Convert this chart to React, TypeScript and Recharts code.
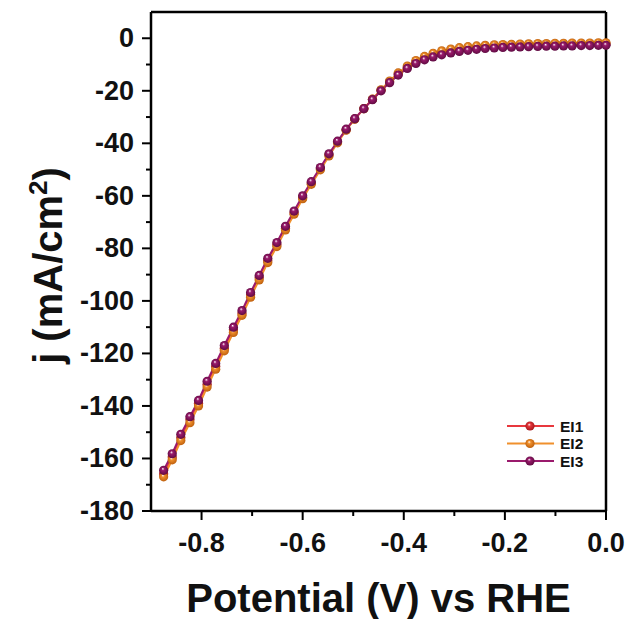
import React from 'react';
import { LineChart, Line, XAxis, YAxis, ReferenceLine } from 'recharts';

const potential = [
  -0.875, -0.858, -0.841, -0.823, -0.806, -0.789, -0.772, -0.755, -0.737, -0.72,
  -0.703, -0.686, -0.669, -0.651, -0.634, -0.617, -0.6, -0.583, -0.565, -0.548,
  -0.531, -0.514, -0.497, -0.479, -0.462, -0.445, -0.428, -0.411, -0.393, -0.376,
  -0.359, -0.342, -0.325, -0.307, -0.29, -0.273, -0.256, -0.239, -0.221, -0.204,
  -0.187, -0.17, -0.153, -0.135, -0.118, -0.101, -0.084, -0.067, -0.049, -0.032,
  -0.015, 0.0,
];

const ei1 = [
  -165.8, -159.4, -152.0, -145.2, -139.0, -131.7, -124.9, -118.0, -111.0, -104.6,
  -97.7, -91.1, -84.6, -78.5, -72.3, -66.4, -60.5, -55.1, -49.6, -44.4,
  -39.5, -34.8, -30.7, -26.8, -23.3, -19.8, -16.6, -13.6, -11.0, -9.0,
  -7.5, -6.4, -5.5, -4.8, -4.3, -3.9, -3.5, -3.3, -3.1, -2.9,
  -2.8, -2.7, -2.6, -2.5, -2.5, -2.4, -2.4, -2.3, -2.3, -2.3,
  -2.2, -2.2,
];

const ei2 = [
  -167.0, -160.5, -153.2, -146.4, -140.0, -132.8, -126.0, -119.0, -112.0, -105.5,
  -98.6, -92.0, -85.4, -79.3, -73.0, -67.0, -61.1, -55.6, -50.1, -44.8,
  -39.8, -35.0, -30.8, -26.8, -23.2, -19.6, -16.3, -13.2, -10.6, -8.5,
  -6.9, -5.7, -4.8, -4.1, -3.6, -3.2, -2.9, -2.7, -2.5, -2.4,
  -2.3, -2.2, -2.1, -2.0, -2.0, -1.9, -1.9, -1.8, -1.8, -1.8,
  -1.7, -1.7,
];

const ei3 = [
  -164.5, -158.2, -150.8, -144.1, -137.9, -130.6, -123.8, -117.0, -110.0, -103.7,
  -96.8, -90.3, -83.8, -77.8, -71.6, -65.8, -60.0, -54.6, -49.2, -44.0,
  -39.2, -34.6, -30.6, -26.8, -23.4, -20.0, -16.9, -14.0, -11.5, -9.6,
  -8.2, -7.1, -6.3, -5.6, -5.0, -4.6, -4.2, -3.9, -3.7, -3.5,
  -3.4, -3.3, -3.2, -3.1, -3.0, -3.0, -2.9, -2.9, -2.8, -2.8,
  -2.7, -2.7,
];

const seriesNames = ['EI1', 'EI2', 'EI3'];
const seriesValues = [ei1, ei2, ei3];
const seriesColors = ['#e8383d', '#f0902c', '#9a1a6c'];
const seriesDark = ['#a01518', '#b85a0a', '#5a0a3e'];

const xDomain = [-0.9, 0];
const yDomain = [-180, 10];
const xTicks = [-0.8, -0.7, -0.6, -0.5, -0.4, -0.3, -0.2, -0.1, 0];
const xMajor = [-0.8, -0.6, -0.4, -0.2, 0];
const yTicks = [0, -10, -20, -30, -40, -50, -60, -70, -80, -90, -100, -110, -120, -130, -140, -150, -160, -170, -180];
const yMajor = [0, -20, -40, -60, -80, -100, -120, -140, -160, -180];

const xTitle = 'Potential (V) vs RHE';

const data = potential.map((v, i) => {
  const row: Record<string, number> = { v };
  seriesNames.forEach((n, k) => {
    row[n] = seriesValues[k][i];
  });
  return row;
});

const FONT = '"Liberation Sans", Arial, Helvetica, sans-serif';
const TS = 9;
const TM = 8;

const isIn = (arr: number[], v: number) => arr.some((m) => Math.abs(m - v) < 1e-6);

function XTick(props: any) {
  const { x, y, payload } = props;
  const val = payload.value as number;
  const major = isIn(xMajor, val);
  const axisY = y - TS - TM;
  return (
    <g>
      <line x1={x} x2={x} y1={axisY} y2={axisY + (major ? 9 : 5)} stroke="#000" strokeWidth={2} />
      {major && (
        <text x={x} y={axisY + 32} textAnchor="middle" dominantBaseline="central" fontFamily={FONT} fontWeight="bold" fontSize={27} fill="#111">
          {val.toFixed(1)}
        </text>
      )}
    </g>
  );
}

function YTick(props: any) {
  const { x, y, payload } = props;
  const val = payload.value as number;
  const major = isIn(yMajor, val);
  const axisX = x + TS + TM;
  return (
    <g>
      <line x1={axisX} x2={axisX - (major ? 9 : 5)} y1={y} y2={y} stroke="#000" strokeWidth={2} />
      {major && (
        <text x={axisX - 17} y={y} textAnchor="end" dominantBaseline="central" fontFamily={FONT} fontWeight="bold" fontSize={27} fill="#111">
          {String(val)}
        </text>
      )}
    </g>
  );
}

function XLabel(props: any) {
  const vb = props.viewBox || { x: 151, y: 511, width: 455, height: 108 };
  return (
    <text x={vb.x + vb.width / 2} y={vb.y + 101} textAnchor="middle" fontFamily={FONT} fontWeight="bold" fontSize={40} fill="#111">
      {xTitle}
    </text>
  );
}

function YLabel(props: any) {
  const vb = props.viewBox || { x: 0, y: 12, width: 151, height: 499 };
  const cx = vb.x + 62;
  const cy = vb.y + vb.height / 2 + 4;
  return (
    <text x={cx} y={cy} transform={`rotate(-90, ${cx}, ${cy})`} textAnchor="middle" fontFamily={FONT} fontWeight="bold" fontSize={40} fill="#111">
      j (mA/cm
      <tspan fontSize={26} dy={-15}>2</tspan>
      <tspan dy={15}>)</tspan>
    </text>
  );
}

const makeDot = (k: number) => (p: any) => (
  <circle key={`d${k}-${p.index}`} cx={p.cx} cy={p.cy} r={4.6} fill={`url(#sphere${k})`} />
);

function Legend() {
  return (
    <svg width={120} height={64} style={{ position: 'absolute', left: 500, top: 416 }}>
      <defs>
        {seriesColors.map((c, k) => (
          <radialGradient key={k} id={`lsphere${k}`} cx="50%" cy="50%" r="55%" fx="40%" fy="32%">
            <stop offset="0%" stopColor="#ffffff" />
            <stop offset="30%" stopColor={c} />
            <stop offset="100%" stopColor={seriesDark[k]} />
          </radialGradient>
        ))}
      </defs>
      {seriesNames.map((n, k) => {
        const yy = 10 + k * 17.5;
        return (
          <g key={n}>
            <line x1={7} x2={54} y1={yy} y2={yy} stroke={seriesColors[k]} strokeWidth={2} />
            <circle cx={30} cy={yy} r={4.6} fill={`url(#lsphere${k})`} />
            <text x={60} y={yy} dominantBaseline="central" fontFamily={FONT} fontWeight="bold" fontSize={15.5} fill="#111">
              {n}
            </text>
          </g>
        );
      })}
    </svg>
  );
}

export default function App() {
  return (
    <div style={{ position: 'absolute', left: 0, top: 0, width: 633, height: 619, background: '#fff' }}>
      <LineChart width={633} height={619} data={data} margin={{ top: 12, right: 27, bottom: 0, left: 0 }}>
        <defs>
          {seriesColors.map((c, k) => (
            <radialGradient key={k} id={`sphere${k}`} cx="50%" cy="50%" r="55%" fx="40%" fy="32%">
              <stop offset="0%" stopColor="#ffffff" />
              <stop offset="30%" stopColor={c} />
              <stop offset="100%" stopColor={seriesDark[k]} />
            </radialGradient>
          ))}
        </defs>
        <XAxis
          dataKey="v"
          type="number"
          domain={xDomain}
          ticks={xTicks}
          interval={0}
          height={108}
          tickSize={TS}
          tickMargin={TM}
          tickLine={false}
          axisLine={{ stroke: '#000', strokeWidth: 2.5 }}
          tick={XTick}
          label={XLabel}
        />
        <YAxis
          type="number"
          domain={yDomain}
          ticks={yTicks}
          interval={0}
          width={151}
          tickSize={TS}
          tickMargin={TM}
          tickLine={false}
          axisLine={{ stroke: '#000', strokeWidth: 2.5 }}
          tick={YTick}
          label={YLabel}
        />
        <ReferenceLine y={yDomain[1]} stroke="#000" strokeWidth={2.5} />
        <ReferenceLine x={xDomain[1]} stroke="#000" strokeWidth={2.5} />
        {seriesNames.map((n, k) => (
          <Line
            key={n}
            type="linear"
            dataKey={n}
            stroke={seriesColors[k]}
            strokeWidth={2}
            dot={makeDot(k)}
            activeDot={false}
            isAnimationActive={false}
          />
        ))}
      </LineChart>
      <Legend />
    </div>
  );
}
